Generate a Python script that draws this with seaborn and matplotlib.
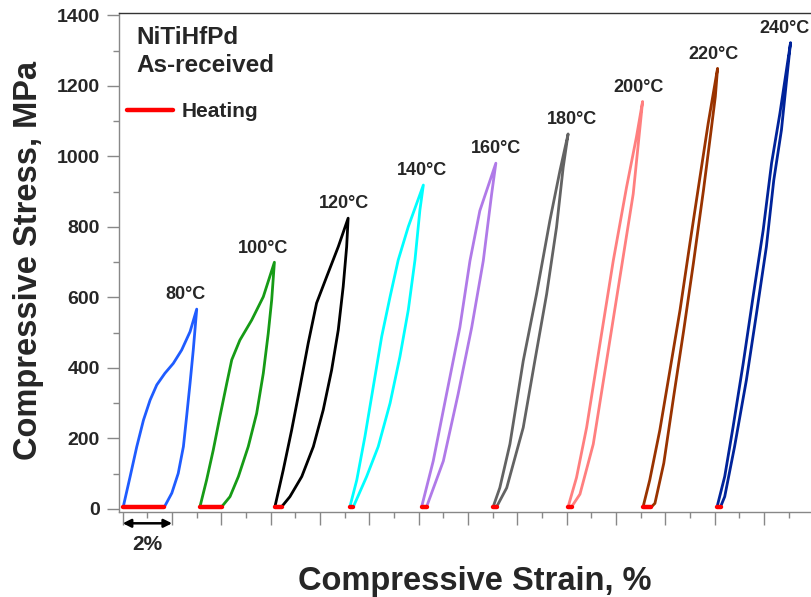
import matplotlib
matplotlib.use("Agg")
import matplotlib.pyplot as plt
from matplotlib.lines import Line2D
from matplotlib.ticker import MultipleLocator, NullFormatter
import seaborn as sns
import pandas as pd

# ---------------- data (strain %, stress MPa) ----------------
temps = ["80°C", "100°C", "120°C", "140°C", "160°C", "180°C", "200°C", "220°C", "240°C"]
colors = ["#1f5cff", "#169b16", "#000000", "#00ffff", "#b07ae8", "#636363", "#ff7f7f", "#993300", "#00239a"]

load_strain = [
    [0.02, 0.30, 0.57, 0.84, 1.11, 1.38, 1.71, 2.05, 2.39, 2.73, 3.00],
    [3.13, 3.40, 3.67, 3.94, 4.22, 4.42, 4.75, 5.23, 5.70, 6.15],
    [6.17, 6.51, 6.85, 7.19, 7.52, 7.86, 8.27, 8.74, 9.14],
    [9.21, 9.49, 9.82, 10.16, 10.50, 10.84, 11.17, 11.58, 12.19],
    [12.12, 12.59, 13.13, 13.67, 14.08, 14.48, 15.13],
    [15.02, 15.29, 15.70, 16.24, 16.78, 17.32, 17.73, 18.06],
    [18.06, 18.40, 18.81, 19.35, 19.89, 20.43, 20.83, 21.08],
    [21.10, 21.37, 21.78, 22.19, 22.60, 23.00, 23.41, 23.74, 24.12],
    [24.10, 24.41, 24.75, 25.16, 25.56, 25.97, 26.31, 26.65, 27.08],
]
load_stress = [
    [6, 92, 177, 252, 309, 352, 385, 413, 451, 503, 567],
    [6, 82, 167, 262, 357, 423, 479, 536, 602, 700],
    [6, 111, 224, 347, 470, 584, 659, 744, 825],
    [6, 82, 205, 347, 489, 602, 706, 801, 919],
    [6, 136, 326, 515, 704, 846, 981],
    [6, 60, 184, 420, 610, 818, 960, 1064],
    [6, 89, 231, 468, 704, 913, 1055, 1156],
    [6, 82, 224, 394, 565, 754, 943, 1094, 1250],
    [6, 92, 233, 413, 602, 791, 981, 1123, 1323],
]
unload_strain = [
    [3.00, 2.86, 2.73, 2.59, 2.46, 2.25, 1.99, 1.69],
    [6.15, 6.04, 5.90, 5.70, 5.43, 5.09, 4.69, 4.35, 4.01],
    [9.14, 9.08, 8.94, 8.74, 8.47, 8.13, 7.73, 7.26, 6.78, 6.44],
    [12.19, 12.05, 11.85, 11.58, 11.24, 10.84, 10.36, 9.89, 9.35],
    [15.13, 14.96, 14.62, 14.15, 13.60, 13.00, 12.32],
    [18.06, 17.86, 17.59, 17.19, 16.71, 16.24, 15.57, 15.16],
    [21.08, 20.70, 20.16, 19.62, 19.08, 18.54, 18.20],
    [24.12, 24.03, 23.86, 23.55, 23.14, 22.75, 22.34, 21.94, 21.58, 21.44],
    [27.08, 26.92, 26.71, 26.40, 26.10, 25.70, 25.29, 24.81, 24.41, 24.24],
]
unload_stress = [
    [567, 451, 357, 262, 177, 101, 45, 6],
    [700, 593, 498, 385, 271, 177, 92, 35, 6],
    [825, 744, 631, 508, 394, 281, 177, 92, 35, 6],
    [919, 848, 706, 565, 432, 300, 177, 92, 6],
    [981, 894, 704, 515, 326, 136, 6],
    [1064, 969, 799, 610, 420, 231, 60, 6],
    [1156, 894, 657, 420, 184, 42, 6],
    [1250, 1170, 1075, 905, 697, 508, 319, 130, 16, 6],
    [1323, 1217, 1075, 933, 744, 555, 366, 177, 35, 6],
]
label_dx = [-8, -8, -3, -1, 0, 3, -3, -3, -4]   # label offsets (pt)

# ---------------- figure ----------------
sns.set_style("ticks")
plt.rcParams["font.family"] = ["Liberation Sans", "DejaVu Sans"]
plt.rcParams["font.weight"] = "bold"

fig = plt.figure(figsize=(8.12, 5.97), dpi=100)
ax = fig.add_axes([0.1469, 0.1429, 0.885, 0.8348])

for i, t in enumerate(temps):
    xs = load_strain[i] + unload_strain[i][1:]
    ys = load_stress[i] + unload_stress[i][1:]
    df = pd.DataFrame({"strain": xs, "stress": ys})
    sns.lineplot(data=df, x="strain", y="stress", sort=False, estimator=None,
                 color=colors[i], lw=2.0, ax=ax, legend=False)
    heat = pd.DataFrame({"strain": [unload_strain[i][-1], load_strain[i][0]],
                         "stress": [unload_stress[i][-1], load_stress[i][0]]})
    sns.lineplot(data=heat, x="strain", y="stress", sort=False, estimator=None,
                 color="#ff0000", lw=3.2, ax=ax, legend=False, zorder=5)
    ax.annotate(t, xy=(load_strain[i][-1], load_stress[i][-1]),
                xytext=(label_dx[i], 7), textcoords="offset points",
                ha="center", va="baseline", fontsize=13, fontweight="bold")

ax.set_xlim(-0.14, 29.0)
ax.set_ylim(-7.7, 1406.2)

ax.xaxis.set_major_locator(MultipleLocator(2))
ax.xaxis.set_minor_locator(MultipleLocator(1))
ax.xaxis.set_major_formatter(NullFormatter())
ax.yaxis.set_major_locator(MultipleLocator(200))
ax.yaxis.set_minor_locator(MultipleLocator(100))

ax.tick_params(axis="both", which="major", length=9, width=1.0, color="#888888",
               labelsize=14, pad=5)
ax.tick_params(axis="both", which="minor", length=4, width=1.0, color="#888888")
for lab in ax.get_yticklabels():
    lab.set_fontweight("bold")

for s in ["left", "bottom"]:
    ax.spines[s].set_color("#888888")
    ax.spines[s].set_linewidth(1.0)
ax.spines["top"].set_color("#333333")
ax.spines["top"].set_linewidth(1.0)
ax.spines["right"].set_visible(False)

ax.set_xlabel("Compressive Strain, %", fontsize=23.5, fontweight="bold")
ax.set_ylabel("Compressive Stress, MPa", fontsize=23.5, fontweight="bold")
ax.xaxis.set_label_coords(0.494, -0.108)
ax.yaxis.set_label_coords(-0.127, 0.505)
ax.yaxis.label.set_va("center")

ax.text(0.0232, 0.9384, "NiTiHfPd", transform=ax.transAxes, fontsize=17.5,
        fontweight="bold", va="baseline", ha="left")
ax.text(0.0232, 0.8828, "As-received", transform=ax.transAxes, fontsize=17.5,
        fontweight="bold", va="baseline", ha="left")

handle = Line2D([], [], color="#ff0000", lw=3.2)
ax.legend([handle], ["Heating"], loc="center left", bbox_to_anchor=(0.0107, 0.8026),
          frameon=False, handlelength=2.2, handletextpad=0.4,
          borderpad=0, borderaxespad=0, prop={"weight": "bold", "size": 15})

# 2% scale arrow
trans = ax.get_xaxis_transform()
ax.annotate("", xy=(2, -0.0233), xytext=(0, -0.0233), xycoords=trans, textcoords=trans,
            arrowprops=dict(arrowstyle="<|-|>", color="black", lw=1.8,
                            mutation_scale=12, shrinkA=0, shrinkB=0),
            annotation_clip=False)
ax.text(1, -0.0668, "2%", transform=trans, ha="center", va="center",
        fontsize=15, fontweight="bold", clip_on=False)

fig.savefig("out.png", dpi=100)
